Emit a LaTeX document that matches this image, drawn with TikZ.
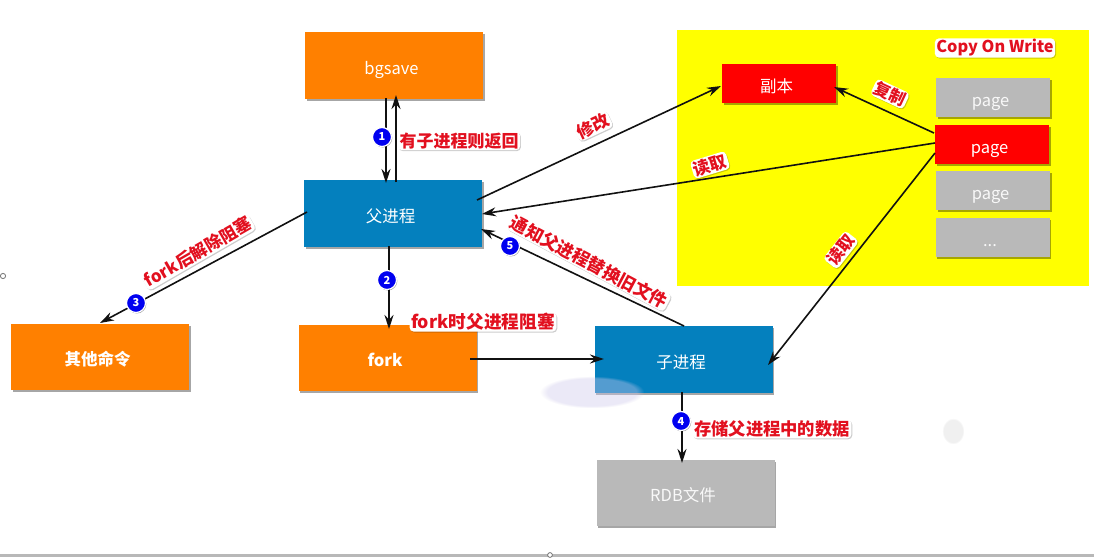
\documentclass[tikz,border=0pt]{standalone}
\usepackage{fontspec}
\usetikzlibrary{arrows.meta,shadows,fadings}
\setmainfont{Noto Sans CJK SC}
\definecolor{orangebox}{HTML}{FF8000}
\definecolor{bluebox}{HTML}{0480BE}
\definecolor{graybox}{HTML}{B9B9B9}
\definecolor{labelred}{HTML}{E2101F}
\definecolor{badgeblue}{HTML}{0000F0}
\definecolor{lineblack}{HTML}{111111}
\definecolor{pureyellow}{RGB}{255,255,0}
\definecolor{purered}{RGB}{255,0,0}
\definecolor{smudge}{RGB}{205,200,235}
\tikzset{
  x=1pt,y=-1pt,
  boxbase/.style={rectangle,inner sep=0pt,text=white,font=\fontsize{16.5}{18}\selectfont,
    text height=18pt,text depth=1pt,execute at begin node={\kern-5pt},
    drop shadow={shadow xshift=1.6pt,shadow yshift=-1.8pt,fill=black,opacity=.35}},
  orangenode/.style={boxbase,fill=orangebox,minimum width=178pt,minimum height=67pt},
  bluenode/.style={boxbase,fill=bluebox,minimum width=178pt,minimum height=67pt},
  graynode/.style={boxbase,fill=graybox,text=white!92!graybox,minimum width=178pt,minimum height=67pt},
  pagenode/.style={boxbase,fill=graybox,text=white!92!graybox,minimum width=114pt,minimum height=39pt},
  redpage/.style={pagenode,fill=purered,text=white},
  redlabel/.style={inner xsep=1.5pt,inner ysep=1pt,fill=white,rounded corners=4pt,text=labelred,
    drop shadow={shadow xshift=.9pt,shadow yshift=-1pt,fill=black,opacity=.2}},
  badge/.style={circle,fill=badgeblue,draw=white,line width=1.2pt,minimum size=19pt,inner sep=0pt,text=white,
    font=\fontsize{11}{11}\selectfont\bfseries,
    drop shadow={shadow xshift=.8pt,shadow yshift=-1pt,fill=black,opacity=.35}},
  link/.style={draw=lineblack,line width=1.6pt,-{Stealth[length=14pt,width=9pt]}},
}
\newcommand{\lbltext}[2]{\fontsize{#1}{#1}\selectfont\bfseries #2}
\begin{document}
\begin{tikzpicture}
\useasboundingbox (0,0) rectangle (1094,557);
\fill[white] (0,0) rectangle (1094,557);
\fill[pureyellow] (677,30) rectangle (1089,286);
\fill[black!28] (0,554) rectangle (1094,557);
\filldraw[fill=white,draw=black!55,line width=.8pt] (3,276) circle (2.6);
\filldraw[fill=white,draw=black!55,line width=.8pt] (550,555) circle (2.4);

\node[orangenode] (bgsave) at (394,65.5) {bgsave};
\node[bluenode] (parent) at (393,213.5) {父进程};
\node[orangenode,minimum height=66pt] (other) at (100,357) {\bfseries 其他命令};
\node[orangenode,minimum height=66pt] (fork) at (387.5,358) {\bfseries fork};
\node[bluenode] (child) at (683.5,359.5) {子进程};
\node[graynode,minimum height=66pt] (rdb) at (685.5,493) {RDB文件};
\node[boxbase,fill=purered,minimum width=114pt,minimum height=39pt] (copy) at (779,83.5) {副本};
\node[pagenode] (pa) at (993,97.5) {page};
\node[redpage] (pb) at (992,144.5) {page};
\node[pagenode] (pc) at (993,190.5) {page};
\node[pagenode] (pd) at (992.5,237.5) {...};

\fill[smudge,opacity=.4,path fading=circle with fuzzy edge 15 percent] (540,376) rectangle (644,408);
\fill[black!6,path fading=circle with fuzzy edge 15 percent] (942,418) rectangle (964,444);

\node[redlabel] (l1) at (459,141) {\lbltext{17}{有子进程则返回}};
\node[redlabel,rotate=25] (l2) at (593,126) {\lbltext{17}{修改}};
\node[redlabel,rotate=-25] (l3) at (890,94) {\lbltext{16.5}{复制}};
\node[redlabel,rotate=17] (l4) at (710,165) {\lbltext{17}{读取}};
\node[redlabel,rotate=52] (l5) at (841,250) {\lbltext{16.5}{读取}};
\node[redlabel] (l6) at (995,48) {\lbltext{16.3}{Copy On Write}};
\node[redlabel,rotate=30] (l7) at (198,252) {\lbltext{17}{fork后解除阻塞}};
\node[redlabel] (l8) at (483,322) {\lbltext{17.7}{fork时父进程阻塞}};
\node[redlabel,rotate=-28] (l9) at (589,262) {\lbltext{17.5}{通知父进程替换旧文件}};
\node[redlabel] (l10) at (772,429) {\lbltext{17.3}{存储父进程中的数据}};

\draw[link] ([shift={(-8,32.5)}]bgsave.center) -- ([shift={(-7,-30.5)}]parent.center);
\draw[link] ([shift={(3,-31.5)}]parent.center) -- ([shift={(2,29.5)}]bgsave.center);
\draw[link] ([shift={(84,-13.5)}]parent.center) -- ([shift={(-58,2.5)}]copy.center);
\draw[link] ([shift={(-58,-11.5)}]pb.center) -- ([shift={(55,3.5)}]copy.center);
\draw[link] ([shift={(-57,-1.5)}]pb.center) -- ([shift={(89,.5)}]parent.center);
\draw[link] ([shift={(.5,-33.5)}]child.center) -- ([shift={(88,15.5)}]parent.center);
\draw[link] ([shift={(-57,8.5)}]pb.center) -- ([shift={(84.5,5.5)}]child.center);
\draw[link] ([shift={(-86,-1.5)}]parent.center) -- ([shift={(0,-34)}]other.center);
\draw[link] ([shift={(-4,32.5)}]parent.center) -- ([shift={(1.5,-29)}]fork.center);
\draw[link] ([shift={(82.5,1)}]fork.center) -- ([shift={(-79.5,-.5)}]child.center);
\draw[link] ([shift={(-1.5,32.5)}]child.center) -- ([shift={(-3.5,-30)}]rdb.center);

\node[badge] (b1) at (382,137) {1};
\node[badge] (b2) at (387,280) {2};
\node[badge] (b3) at (136,303) {3};
\node[badge] (b4) at (681,421) {4};
\node[badge] (b5) at (510,246) {5};
\end{tikzpicture}
\end{document}
